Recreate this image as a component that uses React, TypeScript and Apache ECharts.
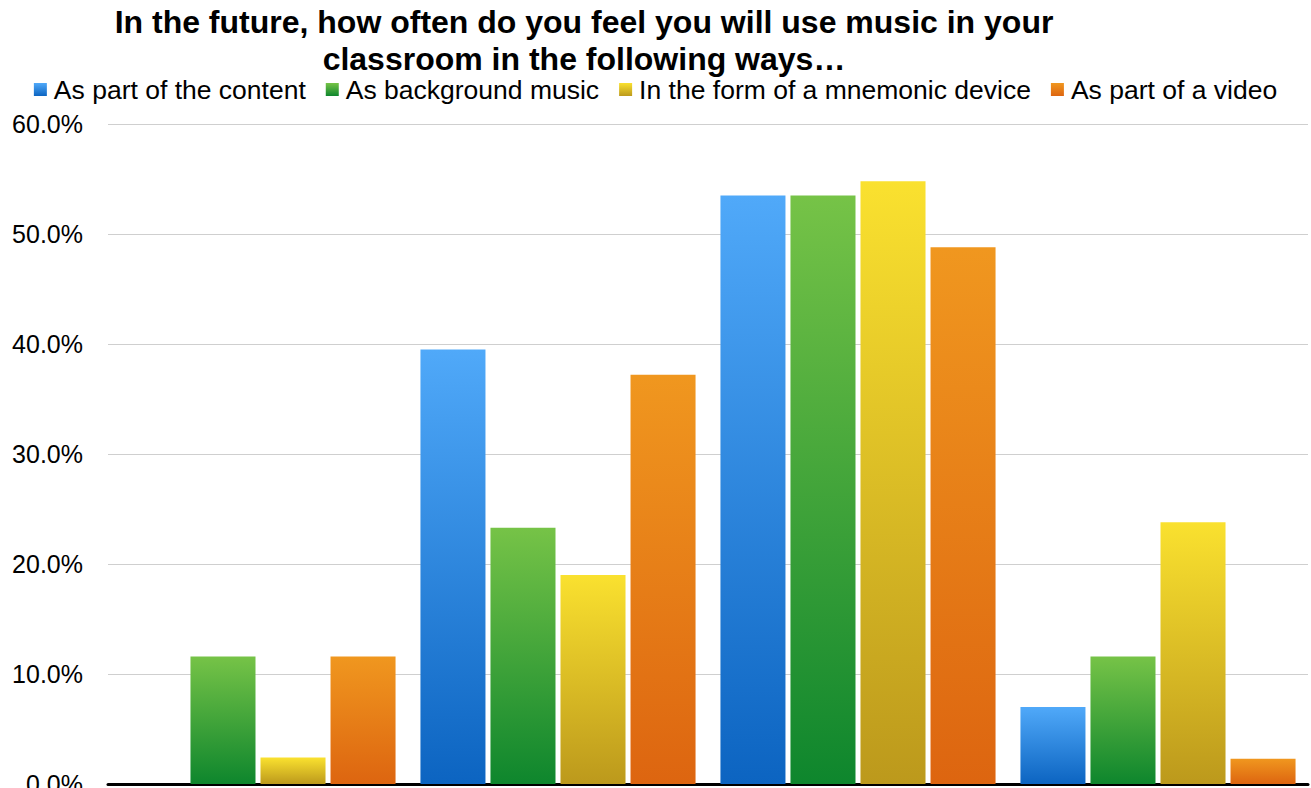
import React, { useEffect, useRef } from "react";
import * as echarts from "echarts";

const titleLines = [
  "In the future, how often do you feel you will use music in your",
  "classroom in the following ways…",
];
const categories = ["Never", "Rarely", "Sometimes", "Often"];
const seriesNames = [
  "As part of the content",
  "As background music",
  "In the form of a mnemonic device",
  "As part of a video",
];
const contentValues = [0, 39.5, 53.5, 7.0];
const backgroundValues = [11.6, 23.3, 53.5, 11.6];
const mnemonicValues = [2.4, 19.0, 54.8, 23.8];
const videoValues = [11.6, 37.2, 48.8, 2.3];
const yTicks = [0, 10, 20, 30, 40, 50, 60];

const gradientStops: [string, string][] = [
  ["#50A9F9", "#0C64C1"],
  ["#76C347", "#0E862D"],
  ["#FAE12F", "#BC991C"],
  ["#F0971F", "#DD6510"],
];

const FONT = '"Liberation Sans", Arial, sans-serif';

export default function App() {
  const ref = useRef<HTMLDivElement>(null);
  useEffect(() => {
    if (!ref.current) return;
    const chart = echarts.init(ref.current, null, { renderer: "svg" });
    const allValues = [contentValues, backgroundValues, mnemonicValues, videoValues];
    const series = seriesNames.map((name, i) => ({
      name,
      type: "bar",
      data: allValues[i],
      barGap: "7.7%",
      barCategoryGap: "8.3%",
      itemStyle: {
        color: new echarts.graphic.LinearGradient(0, 0, 0, 1, [
          { offset: 0, color: gradientStops[i][0] },
          { offset: 1, color: gradientStops[i][1] },
        ]),
      },
    }));
    chart.setOption({
      animation: false,
      textStyle: { fontFamily: FONT },
      title: {
        text: titleLines.join("\n"),
        left: 584,
        top: 3,
        padding: 0,
        textAlign: "center",
        textStyle: {
          fontFamily: FONT,
          fontSize: 32,
          fontWeight: "bold",
          color: "#000",
          lineHeight: 37,
        },
      },
      legend: {
        data: seriesNames,
        left: "center",
        top: 76,
        padding: 0,
        itemGap: 20,
        itemWidth: 13,
        itemHeight: 13,
        icon: "rect",
        textStyle: {
          fontFamily: FONT,
          fontSize: 26.5,
          lineHeight: 24,
          color: "#000",
          padding: [0, 0, 0, 2],
        },
      },
      grid: {
        left: 108,
        right: 3,
        top: 124,
        height: 660,
        containLabel: false,
        outerBoundsMode: "none",
      },
      xAxis: {
        type: "category",
        data: categories,
        axisLine: { show: true, lineStyle: { color: "#000", width: 3 } },
        axisTick: { show: false },
        axisLabel: { show: false },
      },
      yAxis: {
        type: "value",
        min: yTicks[0],
        max: yTicks[yTicks.length - 1],
        interval: 10,
        axisLine: { show: false },
        axisTick: { show: false },
        axisLabel: {
          fontFamily: FONT,
          fontSize: 25,
          color: "#000",
          margin: 25,
          formatter: (v: number) => v.toFixed(1) + "%",
        },
        splitLine: { lineStyle: { color: "#CFCFCF", width: 1 } },
      },
      series,
    });
    return () => chart.dispose();
  }, []);
  return (
    <div
      ref={ref}
      style={{ position: "fixed", left: 0, top: 0, width: 1311, height: 788, background: "#fff" }}
    />
  );
}
